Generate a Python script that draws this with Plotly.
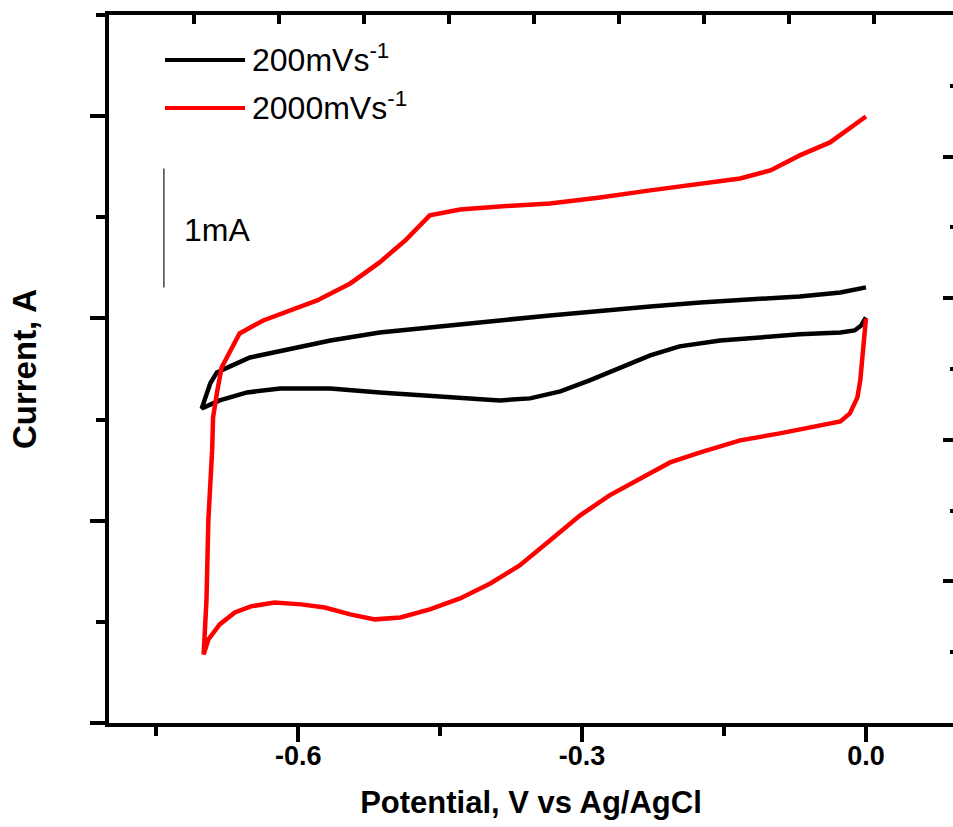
import plotly.graph_objects as go

# ---------------- data (potential in V, current in mA) ----------------
series_names = ["200mVs<sup>-1</sup>", "2000mVs<sup>-1</sup>"]
series_colors = ["#000000", "#ff0000"]

black_v = [0.0, -0.027, -0.070, -0.123, -0.175, -0.228, -0.281, -0.334, -0.387, -0.440,
           -0.492, -0.514, -0.566, -0.619, -0.651, -0.672, -0.686, -0.693, -0.699, -0.702,
           -0.683, -0.654, -0.619, -0.566, -0.514, -0.461, -0.418, -0.387, -0.355, -0.323,
           -0.292, -0.260, -0.228, -0.197, -0.154, -0.112, -0.070, -0.027, -0.012, -0.005, 0.0]
black_i = [0.261, 0.218, 0.185, 0.160, 0.134, 0.101, 0.067, 0.025, -0.017, -0.059,
           -0.092, -0.118, -0.185, -0.269, -0.328, -0.403, -0.454, -0.546, -0.689, -0.756,
           -0.689, -0.622, -0.588, -0.588, -0.622, -0.647, -0.672, -0.689, -0.672, -0.613,
           -0.521, -0.412, -0.311, -0.235, -0.185, -0.160, -0.134, -0.118, -0.101, -0.059, 0.008]

red_v = [0.0, -0.017, -0.038, -0.070, -0.101, -0.133, -0.175, -0.228, -0.281, -0.334,
         -0.387, -0.429, -0.461, -0.487, -0.514, -0.545, -0.580, -0.609, -0.637, -0.662,
         -0.672, -0.681, -0.686, -0.690, -0.691, -0.695, -0.697, -0.700,
         -0.695, -0.683, -0.667, -0.650, -0.625, -0.597, -0.572, -0.545, -0.519, -0.492,
         -0.461, -0.429, -0.397, -0.366, -0.334, -0.302, -0.271, -0.239, -0.207, -0.175,
         -0.133, -0.091, -0.049, -0.027, -0.017, -0.009, -0.006, -0.003, 0.0]
red_i = [1.697, 1.597, 1.479, 1.370, 1.244, 1.176, 1.134, 1.076, 1.017, 0.966,
         0.941, 0.916, 0.866, 0.655, 0.471, 0.294, 0.151, 0.067, -0.017, -0.126,
         -0.269, -0.412, -0.630, -0.832, -1.109, -1.697, -2.370, -2.824,
         -2.698, -2.571, -2.471, -2.420, -2.387, -2.403, -2.429, -2.487, -2.529, -2.513,
         -2.445, -2.353, -2.227, -2.076, -1.866, -1.655, -1.487, -1.345, -1.210, -1.126,
         -1.025, -0.966, -0.899, -0.866, -0.798, -0.664, -0.521, -0.269, 0.0]

x_tick_vals = [-0.6, -0.3, 0.0]
x_tick_text = ["-0.6", "-0.3", "0.0"]
x_minor_vals = [-0.75, -0.45, -0.15]

x_title = "Potential, V vs Ag/AgCl"
y_title = "Current, A"
scale_label = "1mA"
scale_bar_x = -0.742
scale_bar_y0 = 0.26
scale_bar_len = 1.0

# ---------------- figure ----------------
FONT = "Liberation Sans, Arial, sans-serif"
W, H = 953, 827
ML, MR, MT, MB = 109, 0, 15, 104

fig = go.Figure()
for v, i, name, col in [(black_v, black_i, series_names[0], series_colors[0]),
                        (red_v, red_i, series_names[1], series_colors[1])]:
    fig.add_trace(go.Scatter(x=v, y=i, mode="lines", name=name,
                             line=dict(color=col, width=4.5), showlegend=False,
                             hoverinfo="skip"))

# invisible trace on opposite axes so they are drawn
fig.add_trace(go.Scatter(x=[0.5], y=[0.5], xaxis="x2", yaxis="y2", mode="markers",
                         marker=dict(opacity=0), showlegend=False, hoverinfo="skip"))

fig.update_layout(
    width=W, height=H,
    margin=dict(l=ML, r=MR, t=MT, b=MB, pad=0),
    paper_bgcolor="white", plot_bgcolor="white",
    font=dict(family=FONT, color="black"),
    xaxis=dict(range=[-0.8, 0.092], showgrid=False, zeroline=False,
               showline=True, linewidth=4, linecolor="black",
               ticks="outside", ticklen=15, tickwidth=4, tickcolor="black",
               tickmode="array", tickvals=x_tick_vals, ticktext=x_tick_text,
               ticklabelstandoff=-9,
               minor=dict(tickmode="array", tickvals=x_minor_vals, ticks="outside",
                          ticklen=9, tickwidth=4, tickcolor="black", showgrid=False),
               tickfont=dict(family=FONT, size=27, weight="bold", color="black"),
               title=dict(text=x_title, font=dict(family=FONT, size=31, weight="bold"),
                          standoff=22)),
    yaxis=dict(range=[-3.4, 2.55], showgrid=False, zeroline=False,
               showline=True, linewidth=4, linecolor="black",
               ticks="outside", ticklen=15, tickwidth=4, tickcolor="black",
               tick0=0, dtick=1.7, showticklabels=False,
               minor=dict(dtick=0.85, tick0=0, ticks="outside", ticklen=9,
                          tickwidth=4, tickcolor="black", showgrid=False),
               title=dict(text=y_title, font=dict(family=FONT, size=33, weight="bold"),
                          standoff=44)),
    xaxis2=dict(overlaying="x", side="top", anchor="y", range=[0, 9.93],
                showgrid=False, zeroline=False, showline=True, linewidth=4,
                linecolor="black", ticks="inside", ticklen=9, tickwidth=4,
                tickcolor="black", tick0=0, dtick=1, showticklabels=False),
    yaxis2=dict(overlaying="y", side="right", anchor="x", range=[0, 5],
                showgrid=False, zeroline=False, showline=False,
                ticks="inside", ticklen=10, tickwidth=4, tickcolor="black",
                tick0=0, dtick=1, showticklabels=False,
                minor=dict(dtick=0.5, ticks="inside", ticklen=3, tickwidth=4,
                           tickcolor="black", showgrid=False)),
)

# scale bar
fig.add_shape(type="line", xref="x", yref="y", x0=scale_bar_x, x1=scale_bar_x,
              y0=scale_bar_y0, y1=scale_bar_y0 + scale_bar_len,
              line=dict(color="#444444", width=1.5))
fig.add_annotation(xref="x", yref="y", x=scale_bar_x + 0.019,
                   y=scale_bar_y0 + 0.48, text=scale_label, showarrow=False,
                   xanchor="left", yanchor="middle",
                   font=dict(family=FONT, size=32, color="black"))

# manual legend (paper coordinates)
def px_x(p):
    return (p - ML) / (W - ML - MR)

def px_y(p):
    return (H - MB - p) / (H - MB - MT)

for k, (name, col) in enumerate(zip(series_names, series_colors)):
    yy = [60, 108][k]
    fig.add_shape(type="line", xref="paper", yref="paper",
                  x0=px_x(165), x1=px_x(245), y0=px_y(yy), y1=px_y(yy),
                  line=dict(color=col, width=4))
    fig.add_annotation(xref="paper", yref="paper", x=px_x(250), y=px_y(yy - 2),
                       text=name, showarrow=False, xanchor="left", yanchor="middle",
                       font=dict(family=FONT, size=32, color="black"))

fig.write_html("out.html", config={"displayModeBar": False})
